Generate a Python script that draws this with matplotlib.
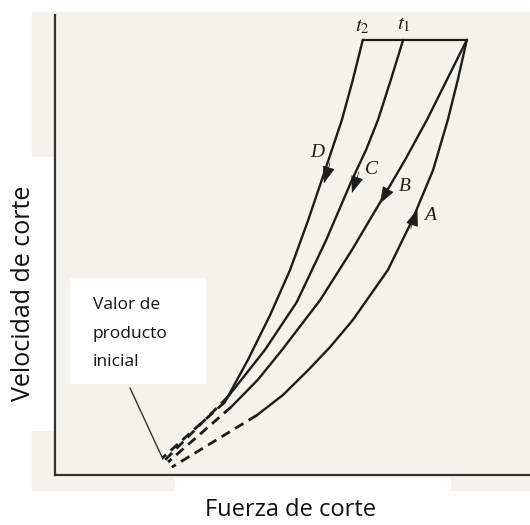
"""Curvas de flujo (velocidad vs fuerza de corte) con valor de producto inicial."""
import matplotlib
matplotlib.use("Agg")
import matplotlib.pyplot as plt
from matplotlib.patches import Rectangle

# curvas sólidas (fuerza, velocidad) en unidades 0-100
d_x = [64.8, 62.7, 60.4, 57.0, 53.3, 49.5, 45.3, 40.6, 35.8]
d_y = [94.6, 85.9, 77.2, 66.7, 55.4, 44.6, 34.8, 25.0, 15.9]
c_x = [73.3, 70.7, 68.0, 65.5, 62.5, 57.1, 50.9, 44.2, 36.4]
c_y = [94.6, 85.9, 77.2, 70.7, 64.1, 51.1, 37.6, 27.2, 17.0]
b_x = [86.7, 82.5, 78.3, 73.7, 69.1, 62.5, 55.8, 47.8, 42.7, 37.1]
b_y = [94.6, 85.9, 77.2, 68.5, 60.4, 48.9, 38.0, 27.2, 20.7, 14.8]
a_x = [86.7, 84.8, 82.7, 79.6, 75.2, 70.1, 62.7, 57.9, 53.3, 48.0, 42.5]
a_y = [94.6, 85.9, 77.2, 66.3, 55.4, 44.6, 33.7, 27.8, 22.8, 17.4, 13.0]

# extrapolación discontinua hasta el valor de producto inicial
d_dash = ([35.8, 22.6], [15.9, 3.7])
c_dash = ([36.4, 23.2], [17.0, 3.3])
b_dash = ([37.1, 23.8], [14.8, 2.8])
a_dash = ([42.5, 24.6], [13.0, 1.7])

top_line = ([64.8, 86.7], [94.6, 94.6])
pointer = ([15.8, 22.7], [18.9, 3.5])

curve_labels = ["D", "C", "B", "A"]
label_pos = [(55.2, 70.2), (66.7, 66.5), (73.7, 62.8), (78.9, 56.5)]
arrow_tips = [(56.6, 63.4), (62.5, 61.3), (68.4, 59.0), (76.3, 57.8)]
arrow_tails = [(57.9, 67.9), (64.0, 65.9), (70.8, 63.3), (74.9, 53.6)]
t_labels = [r"$t_2$", r"$t_1$"]
t_pos = [(64.8, 95.4), (73.5, 95.8)]

INK = "#1c1c1c"
BG = "#f3f2ec"

fig = plt.figure(figsize=(5.3, 5.25), dpi=100)
W, H = 530, 525
# fondo escaneado y recuadros blancos de las etiquetas
fig.patches.append(Rectangle((32 / W, 1 - 490 / H), 498 / W, 478 / H,
                             transform=fig.transFigure, color=BG, zorder=-2))
fig.patches.append(Rectangle((0, 1 - 430 / H), 53 / W, 273 / H,
                             transform=fig.transFigure, color="white", zorder=-1))
fig.patches.append(Rectangle((175 / W, 0), 275 / W, 47 / H,
                             transform=fig.transFigure, color="white", zorder=-1))

ax = fig.add_axes([55 / W, 50 / H, 475 / W, 460 / H])
ax.set_facecolor("none")
ax.set_xlim(0, 100)
ax.set_ylim(0, 100)
for s in ["top", "right"]:
    ax.spines[s].set_visible(False)
for s in ["left", "bottom"]:
    ax.spines[s].set_color("#333333")
    ax.spines[s].set_linewidth(1.6)
ax.set_xticks([])
ax.set_yticks([])

for xs, ys in [(d_x, d_y), (c_x, c_y), (b_x, b_y), (a_x, a_y)]:
    ax.plot(xs, ys, color=INK, lw=1.7, solid_joinstyle="round", solid_capstyle="round")
for xs, ys in [d_dash, c_dash, b_dash, a_dash]:
    ax.plot(xs, ys, color=INK, lw=2.0, dashes=(3.5, 2.2))
ax.plot(*top_line, color=INK, lw=1.6)
ax.plot(*pointer, color="#333333", lw=1.0)

for tip, tail in zip(arrow_tips, arrow_tails):
    ax.annotate("", xy=tip, xytext=tail,
                arrowprops=dict(arrowstyle="-|>,head_length=0.55,head_width=0.2",
                                color=INK, lw=0.5, mutation_scale=20,
                                shrinkA=0, shrinkB=0))
for lab, (x, y) in zip(curve_labels, label_pos):
    ax.text(x, y, lab, family="Liberation Serif", style="italic", fontsize=14,
            color=INK, ha="center", va="center")
for lab, (x, y) in zip(t_labels, t_pos):
    ax.text(x, y, lab, fontsize=15, color=INK, ha="center", va="bottom",
            math_fontfamily="stix")

ax.add_patch(Rectangle((3.2, 20.0), 28.4, 22.8, color="white", zorder=1))
ax.text(8.0, 38.7, "Valor de\nproducto\ninicial", family="Open Sans", fontsize=12.5,
        va="top", ha="left", linespacing=2.05, color="#111111", zorder=2)

ax.set_xlabel("Fuerza de corte", family="Open Sans", fontsize=17, color="#111111")
ax.set_ylabel("Velocidad de corte", family="Open Sans", fontsize=18, color="#111111")
ax.xaxis.set_label_coords(0.495, -0.05)
ax.yaxis.set_label_coords(-0.04, 0.396)

fig.savefig("out.png", dpi=100)
